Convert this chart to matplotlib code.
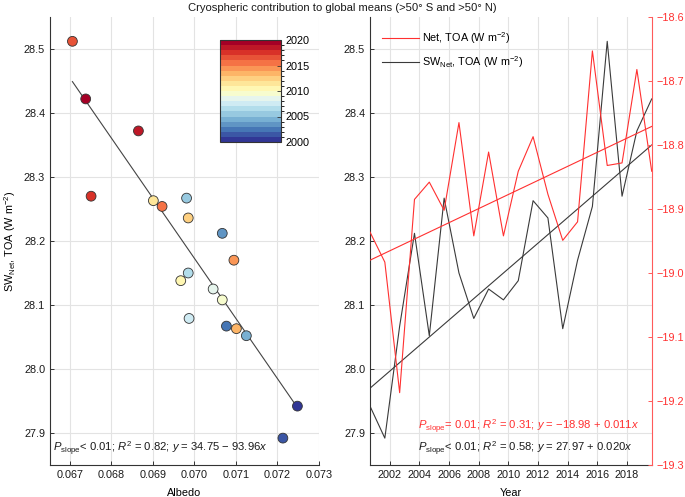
import numpy as np
import matplotlib
matplotlib.use("Agg")
import matplotlib.pyplot as plt
from matplotlib.colors import ListedColormap, BoundaryNorm
from matplotlib.lines import Line2D

plt.rcParams['font.family'] = ['Liberation Sans', 'DejaVu Sans']
plt.rcParams['mathtext.fontset'] = 'custom'
plt.rcParams['mathtext.rm'] = 'Liberation Sans'
plt.rcParams['mathtext.it'] = 'Liberation Sans:italic'
plt.rcParams['mathtext.bf'] = 'Liberation Sans:bold'
plt.rcParams['axes.unicode_minus'] = True

# ---- data ----
years = np.arange(2000, 2020)
albedo = [0.07248, 0.07213, 0.07077, 0.07067, 0.07125, 0.06981, 0.06985, 0.06987,
          0.07045, 0.07067, 0.06967, 0.06901, 0.06985, 0.07101, 0.07095, 0.06922,
          0.06706, 0.06751, 0.06865, 0.06738]
sw_net = [27.942, 27.892, 28.067, 28.212, 28.052, 28.267, 28.150, 28.079,
          28.125, 28.108, 28.138, 28.263, 28.236, 28.063, 28.170, 28.254,
          28.512, 28.270, 28.372, 28.422]
net_toa = [-18.936, -18.983, -19.187, -18.885, -18.858, -18.902, -18.765, -18.942,
           -18.811, -18.942, -18.841, -18.787, -18.877, -18.949, -18.920, -18.653,
           -18.832, -18.828, -18.682, -18.841]
# regression coefficients (from annotations)
fit_left = (34.75, -93.96)
fit_sw = (27.97, 0.020)
fit_net = (-18.98, 0.011)

title = "Cryospheric contribution to global means (>50° S and >50° N)"
ann_left = r"$P_{\rm slope}$< 0.01; $R^2$ = 0.82; $y$ = 34.75 − 93.96$x$"
ann_net = r"$P_{\rm slope}$= 0.01; $R^2$ = 0.31; $y$ = −18.98 + 0.011$x$"
ann_sw = r"$P_{\rm slope}$< 0.01; $R^2$ = 0.58; $y$ = 27.97 + 0.020$x$"
xticks_left = [0.067, 0.068, 0.069, 0.070, 0.071, 0.072, 0.073]
yticks_left = [27.9, 28.0, 28.1, 28.2, 28.3, 28.4, 28.5]
yticks_right = [-19.3, -19.2, -19.1, -19.0, -18.9, -18.8, -18.7, -18.6]
xticks_year = [2002, 2004, 2006, 2008, 2010, 2012, 2014, 2016, 2018]

# ---- style ----
W, H = 685, 497
fig = plt.figure(figsize=(W / 100, H / 100), dpi=100)
FS = 7.8
FSA = 8.1
spine_c = '#333333'
grid_c = '#e3e3e3'
red = '#ff3030'

def px_axes(l, t, r, b):
    return fig.add_axes([l / W, 1 - b / H, (r - l) / W, (b - t) / H])

def style(ax):
    ax.tick_params(direction='in', length=3, width=0.7, color=spine_c,
                   labelsize=FS, labelcolor='#1a1a1a')
    ax.grid(True, color=grid_c, lw=0.8)
    ax.set_axisbelow(True)
    for s in ['top', 'right']:
        ax.spines[s].set_visible(False)
    for s in ['left', 'bottom']:
        ax.spines[s].set_color(spine_c)
        ax.spines[s].set_linewidth(0.8)

# colormap: discrete RdYlBu_r
base = plt.get_cmap('RdYlBu_r')
cmap = ListedColormap(base(np.linspace(0, 1, 20)))
norm = BoundaryNorm(np.arange(2000, 2021), cmap.N)

# ---- left panel ----
ax1 = px_axes(50, 17, 319, 465)
style(ax1)
ax1.set_xlim(0.06652, 0.073)
ax1.set_ylim(27.85, 28.55)
ax1.set_xticks(xticks_left)
ax1.set_xticklabels([f"{v:.3f}" for v in xticks_left])
ax1.set_yticks(yticks_left)
ax1.set_yticklabels([f"{v:.1f}" for v in yticks_left])
xa = np.array([min(albedo), max(albedo)])
ax1.plot(xa, fit_left[0] + fit_left[1] * xa, color='#444444', lw=0.8, zorder=2)
ax1.scatter(albedo, sw_net, c=years + 0.5, cmap=cmap, norm=norm, s=50,
            edgecolors='#333333', linewidths=0.6, zorder=3)
ax1.set_xlabel("Albedo", fontsize=FS, labelpad=6)
ax1.set_ylabel(r"SW$_{\rm Net}$, TOA (W m$^{-2}$)", fontsize=FS, labelpad=4)
ax1.text(0.011, 0.036, ann_left, transform=ax1.transAxes, fontsize=FSA,
         ha='left', va='center', color='#1a1a1a')

# colorbar
cax = px_axes(220, 40, 281, 142)
sm = matplotlib.cm.ScalarMappable(cmap=cmap, norm=norm)
cb = fig.colorbar(sm, cax=cax, ticks=[2000, 2005, 2010, 2015, 2020])
cb.ax.tick_params(direction='in', length=3, width=0.6, labelsize=FS, color='#333333')
cb.outline.set_linewidth(0.8)
cb.outline.set_edgecolor('#333333')

# ---- right panel ----
ax2 = px_axes(370, 17, 651.7, 465)
style(ax2)
xs = years + 0.67
idx = np.arange(len(years))
ax2.set_xlim(xs[0], xs[-1])
ax2.set_ylim(27.85, 28.55)
ax2.set_yticks(yticks_left)
ax2.set_yticklabels([f"{v:.1f}" for v in yticks_left])
ax2.set_xticks(xticks_year)
ax2.set_xticklabels([str(v) for v in xticks_year])
ax2.plot(xs, sw_net, color='#3a3a3a', lw=0.8)
ax2.plot(xs, fit_sw[0] + fit_sw[1] * idx, color='#3a3a3a', lw=0.8)
ax2.set_xlabel("Year", fontsize=FS, labelpad=6)

ax3 = ax2.twinx()
ax3.set_ylim(-19.3, -18.6)
ax3.set_yticks(yticks_right)
ax3.set_yticklabels([f"{v:.1f}".replace('-', '−') for v in yticks_right])
ax3.plot(xs, net_toa, color=red, lw=0.8)
ax3.plot(xs, fit_net[0] + fit_net[1] * idx, color=red, lw=0.8)
for s in ['top', 'left', 'bottom']:
    ax3.spines[s].set_visible(False)
ax3.spines['right'].set_color('#ff5a5a')
ax3.spines['right'].set_linewidth(0.8)
ax3.tick_params(axis='y', direction='in', length=3, width=0.7, color='#ff5a5a',
                labelsize=FS, labelcolor=red)

ax3.text(0.171, 0.0855, ann_net, transform=ax2.transAxes, fontsize=FSA,
         ha='left', va='center', color=red)
ax3.text(0.171, 0.036, ann_sw, transform=ax2.transAxes, fontsize=FSA,
         ha='left', va='center', color='#1a1a1a')

handles = [Line2D([], [], color=red, lw=0.8),
           Line2D([], [], color='#3a3a3a', lw=0.8)]
labels = [r"Net, TOA (W m$^{-2}$)", r"SW$_{\rm Net}$, TOA (W m$^{-2}$)"]
ax3.legend(handles, labels, loc='upper left', bbox_to_anchor=(0.02, 0.985),
           frameon=False, fontsize=FS, handlelength=3.4, handletextpad=0.3,
           labelspacing=0.75, borderaxespad=0.2)

fig.text(342 / W, 1 - 8 / H, title, ha='center', va='center', fontsize=8.1,
         color='#1a1a1a')

fig.savefig("out.png", dpi=100)
